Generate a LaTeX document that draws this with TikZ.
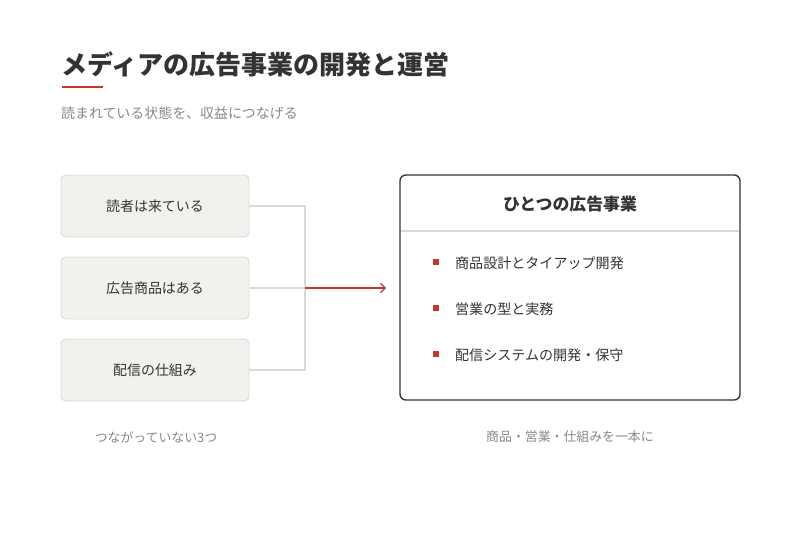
\documentclass[tikz,border=0pt]{standalone}
\usepackage{fontspec}
\setmainfont{Noto Sans CJK JP}
\usetikzlibrary{arrows.meta, positioning}
\definecolor{accent}{HTML}{C0392B}
\definecolor{boxfill}{HTML}{F3F1ED}
\definecolor{boxline}{HTML}{DCD9D2}
\definecolor{ink}{HTML}{333333}
\definecolor{mute}{HTML}{888888}

\begin{document}
\begin{tikzpicture}[x=0.03cm, y=-0.03cm,
    part/.style={draw=boxline, fill=boxfill, rounded corners=4pt, line width=0.8pt,
      minimum width=188*0.03cm, minimum height=62*0.03cm, font=\fontsize{11.9}{14}\selectfont, text=ink},
    link/.style={draw=boxline, line width=1pt},
    item/.style={anchor=west, font=\fontsize{12}{14}\selectfont, text=ink},
    bullet/.style={fill=accent, minimum size=6.5*0.03cm, inner sep=0pt},
    note/.style={font=\fontsize{11}{13}\selectfont, text=mute}]
  \useasboundingbox (0,0) rectangle (800,560);
  % title block
  \node[anchor=west, font=\bfseries\fontsize{22.2}{26}\selectfont, text=ink] (title) at (57,64) {メディアの広告事業の開発と運営};
  \draw[accent, line width=2.5pt] (62,87) -- (103,87);
  \node[anchor=west, font=\fontsize{11.9}{14}\selectfont, text=mute] (sub) at (57,113) {読まれている状態を、収益につなげる};
  % the three parts
  \node[part] (reader) at (155,206) {読者は来ている};
  \node[part] (ads) at (155,288) {広告商品はある};
  \node[part] (deliv) at (155,370) {配信の仕組み};
  \coordinate (join) at (305,288);
  \coordinate (tip) at (386,288);
  \draw[link] (reader.east) -| (join);
  \draw[link] (deliv.east) -| (join);
  \draw[link] (ads.east) -- (join);
  \draw[accent, line width=1pt, -{Straight Barb[length=4pt, width=8pt]}] (join) -- (tip);
  % the one business
  \node[draw=ink, line width=1.2pt, rounded corners=5pt, minimum width=340*0.03cm, minimum height=225*0.03cm] (biz) at (570,287.5) {};
  \node[font=\bfseries\fontsize{14.4}{17}\selectfont, text=ink] (biztitle) at (570,204) {ひとつの広告事業};
  \draw[boxline, line width=1pt] (401,231) -- (739,231);
  \foreach \y/\t [count=\i] in {263/商品設計とタイアップ開発, 309/営業の型と実務, 355/配信システムの開発・保守}{
    \node[bullet] (m\i) at (436,\y-1) {};
    \node[item] (t\i) at (451,\y) {\t};
  }
  % captions
  \node[note] (cap1) at (156,437) {つながっていない3つ};
  \node[note] (cap2) at (570,437) {商品・営業・仕組みを一本に};
\end{tikzpicture}
\end{document}
